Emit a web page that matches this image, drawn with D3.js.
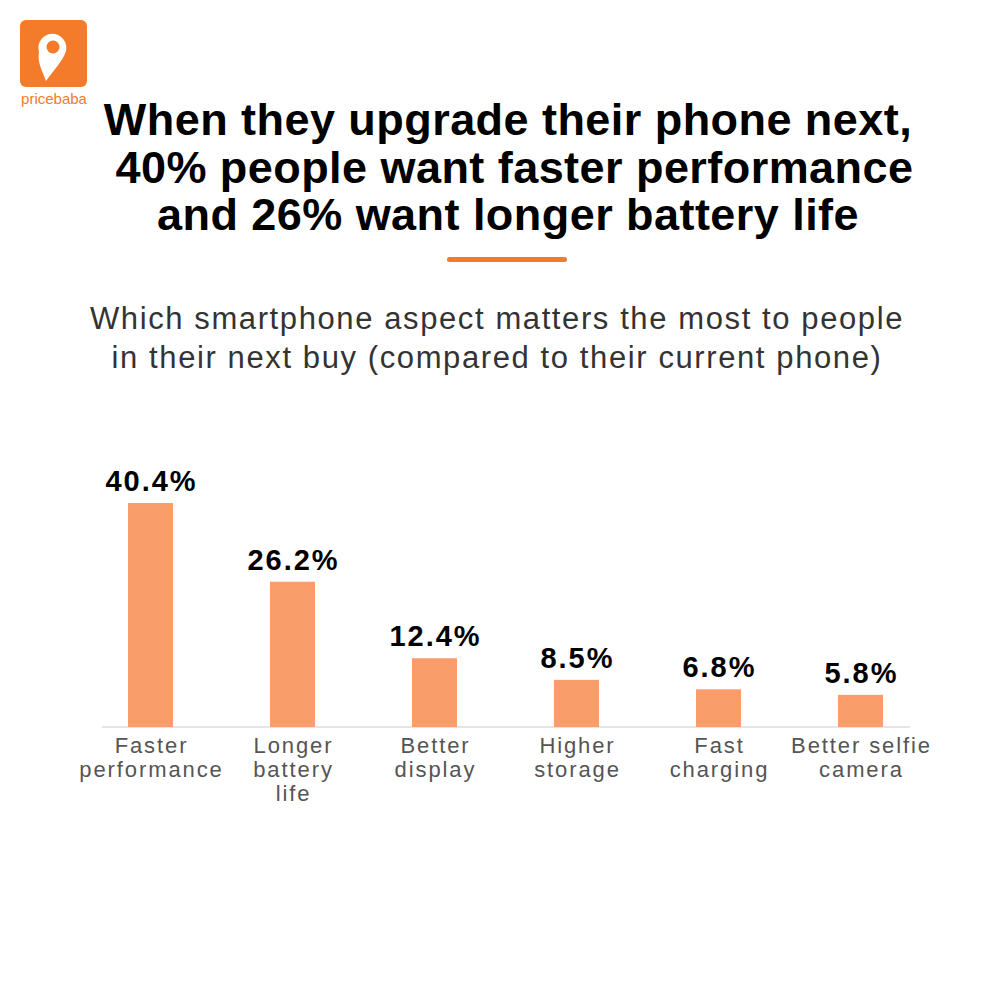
<!DOCTYPE html>
<html>
<head>
<meta charset="utf-8">
<script src="https://cdn.jsdelivr.net/npm/d3@7"></script>
<style>
  body { margin: 0; background: #fff; }
  text { font-family: "Liberation Sans", Arial, Helvetica, sans-serif; }
</style>
</head>
<body>
<script>
// chart data
var categories = ["Faster performance", "Longer battery life", "Better display",
                  "Higher storage", "Fast charging", "Better selfie camera"];
var labelLines = [["Faster", "performance"], ["Longer", "battery", "life"], ["Better", "display"],
                  ["Higher", "storage"], ["Fast", "charging"], ["Better selfie", "camera"]];
var values = [40.4, 26.2, 12.4, 8.5, 6.8, 5.8];
var titleLines = ["When they upgrade their phone next,", " 40% people want faster performance",
                  "and 26% want longer battery life"];
var subtitleLines = ["Which smartphone aspect matters the most to people",
                     "in their next buy (compared to their current phone)"];

var w = 1000, h = 1000;
var orange = "#f47b2a";

var svg = d3.select("body")
    .append("svg")
    .attr("width", w)
    .attr("height", h);

//logo
var logo = svg.append("g").attr("class", "logo");
logo.append("rect")
    .attr("x", 20).attr("y", 20)
    .attr("width", 67).attr("height", 67)
    .attr("rx", 6)
    .style("fill", orange);
logo.append("path")
    .attr("d", "M46,81 C42,70 37,62 39,52 A14,14 0 1 1 66,51 C63,61 53,71 46,81 Z")
    .style("fill", "#fff");
logo.append("circle")
    .attr("cx", 53).attr("cy", 47).attr("r", 6.5)
    .style("fill", orange);
logo.append("text")
    .attr("x", 54).attr("y", 104)
    .attr("text-anchor", "middle")
    .style("font-size", "15px")
    .style("fill", orange)
    .text("pricebaba");

//title
svg.selectAll(".title")
    .data(titleLines)
    .enter()
    .append("text")
    .attr("class", "title")
    .attr("x", 508)
    .attr("y", function(d, i){ return 135 + i * 47.5; })
    .attr("text-anchor", "middle")
    .style("font-size", "45px")
    .style("font-weight", "bold")
    .style("letter-spacing", "0.45px")
    .style("fill", "#000")
    .style("white-space", "pre")
    .text(function(d){ return d; });

//orange underline
svg.append("rect")
    .attr("x", 447).attr("y", 257)
    .attr("width", 120).attr("height", 5)
    .attr("rx", 2.5)
    .style("fill", orange);

//subtitle
svg.selectAll(".subtitle")
    .data(subtitleLines)
    .enter()
    .append("text")
    .attr("class", "subtitle")
    .attr("x", 497)
    .attr("y", function(d, i){ return 329 + i * 39; })
    .attr("text-anchor", "middle")
    .style("font-size", "31px")
    .style("letter-spacing", "1.6px")
    .style("fill", "#333")
    .text(function(d){ return d; });

//scales
var x = d3.scaleBand()
    .domain(categories)
    .range([79.5, 931.5])
    .paddingInner(0.683)
    .paddingOuter(0.3415);

var y = d3.scaleLinear()
    .domain([0, 40.4])
    .range([727, 503]);

//baseline
svg.append("line")
    .attr("x1", 102).attr("x2", 910)
    .attr("y1", y(0)).attr("y2", y(0))
    .style("stroke", "#dcdcdc")
    .style("stroke-width", 1.5);

//bars
svg.selectAll(".bar")
    .data(values)
    .enter()
    .append("rect")
    .attr("class", "bar")
    .attr("x", function(d, i){ return x(categories[i]); })
    .attr("y", function(d){ return y(d); })
    .attr("width", x.bandwidth())
    .attr("height", function(d){ return y(0) - y(d); })
    .style("fill", "#f99d6b");

//value labels (letter-spacing adds a trailing gap, so nudge right by half of it)
svg.selectAll(".value")
    .data(values)
    .enter()
    .append("text")
    .attr("class", "value")
    .attr("x", function(d, i){ return x(categories[i]) + x.bandwidth() / 2 + 1; })
    .attr("y", function(d){ return y(d) - 12; })
    .attr("text-anchor", "middle")
    .style("font-size", "29px")
    .style("font-weight", "bold")
    .style("letter-spacing", "2px")
    .style("fill", "#000")
    .text(function(d){ return d.toFixed(1) + "%"; });

//category labels
var cats = svg.selectAll(".cat")
    .data(labelLines)
    .enter()
    .append("text")
    .attr("class", "cat")
    .attr("text-anchor", "middle")
    .attr("y", 753)
    .style("font-size", "22px")
    .style("letter-spacing", "1.9px")
    .style("fill", "#555");

cats.selectAll("tspan")
    .data(function(d, i){
        return d.map(function(s){ return {s: s, i: i}; });
    })
    .enter()
    .append("tspan")
    .attr("x", function(d){ return x(categories[d.i]) + x.bandwidth() / 2 + 1; })
    .attr("dy", function(d, j){ return j === 0 ? 0 : 24; })
    .text(function(d){ return d.s; });
</script>
</body>
</html>
